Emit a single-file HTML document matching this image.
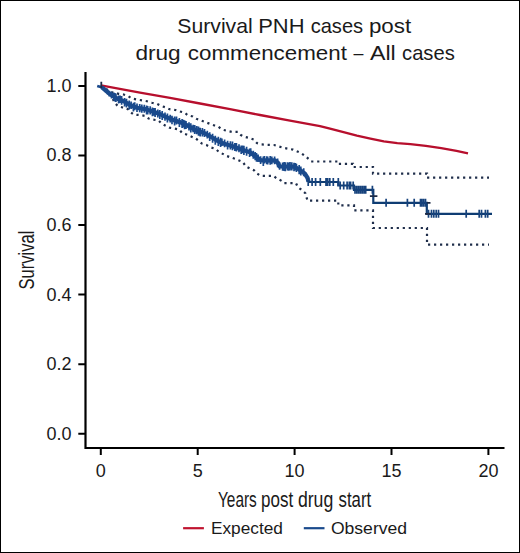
<!DOCTYPE html>
<html><head><meta charset="utf-8"><style>
html,body{margin:0;padding:0;background:#fff}
svg{display:block;font-family:"Liberation Sans",sans-serif;fill:#1a1a1a}
</style></head><body>
<svg width="520" height="553" viewBox="0 0 520 553">
<rect x="0.5" y="0.5" width="519" height="552" fill="#fff" stroke="#000" stroke-width="1"/>
<text x="177.29" y="32.9" font-size="21" textLength="75.43" lengthAdjust="spacingAndGlyphs">Survival</text>
<text x="258.21" y="32.9" font-size="21" textLength="46.29" lengthAdjust="spacingAndGlyphs">PNH</text>
<text x="310.64" y="32.9" font-size="21" textLength="52.48" lengthAdjust="spacingAndGlyphs">cases</text>
<text x="368.94" y="32.9" font-size="21" textLength="42.25" lengthAdjust="spacingAndGlyphs">post</text>
<text x="135.42" y="59.9" font-size="21" textLength="45.29" lengthAdjust="spacingAndGlyphs">drug</text>
<text x="187.84" y="59.9" font-size="21" textLength="159.08" lengthAdjust="spacingAndGlyphs">commencement</text>
<text x="353.4" y="59.9" font-size="21" textLength="9.93" lengthAdjust="spacingAndGlyphs">–</text>
<text x="370.0" y="59.9" font-size="21" textLength="25.78" lengthAdjust="spacingAndGlyphs">All</text>
<text x="402.04" y="59.9" font-size="21" textLength="52.79" lengthAdjust="spacingAndGlyphs">cases</text>
<path d="M85.5 72V448H504.5" fill="none" stroke="#000" stroke-width="2.2"/>
<path d="M78.3 433.8H85.5 M78.3 364.2H85.5 M78.3 294.6H85.5 M78.3 225.1H85.5 M78.3 155.5H85.5 M78.3 85.9H85.5" stroke="#000" stroke-width="2"/>
<path d="M100.8 448V455 M197.7 448V455 M294.6 448V455 M391.5 448V455 M488.4 448V455" stroke="#000" stroke-width="2"/>
<text x="71.5" y="439.7" font-size="18" text-anchor="end">0.0</text>
<text x="71.5" y="370.1" font-size="18" text-anchor="end">0.2</text>
<text x="71.5" y="300.5" font-size="18" text-anchor="end">0.4</text>
<text x="71.5" y="231.0" font-size="18" text-anchor="end">0.6</text>
<text x="71.5" y="161.4" font-size="18" text-anchor="end">0.8</text>
<text x="71.5" y="91.8" font-size="18" text-anchor="end">1.0</text>
<text x="100.8" y="476.8" font-size="18" text-anchor="middle">0</text>
<text x="197.7" y="476.8" font-size="18" text-anchor="middle">5</text>
<text x="294.6" y="476.8" font-size="18" text-anchor="middle">10</text>
<text x="391.5" y="476.8" font-size="18" text-anchor="middle">15</text>
<text x="488.4" y="476.8" font-size="18" text-anchor="middle">20</text>
<text transform="translate(33.9 260) rotate(-90)" font-size="22.5" text-anchor="middle" textLength="59" lengthAdjust="spacingAndGlyphs">Survival</text>
<text x="217.98" y="506.6" font-size="21.5" textLength="38.86" lengthAdjust="spacingAndGlyphs">Years</text>
<text x="261.11" y="506.6" font-size="21.5" textLength="32.11" lengthAdjust="spacingAndGlyphs">post</text>
<text x="297.88" y="506.6" font-size="21.5" textLength="35.38" lengthAdjust="spacingAndGlyphs">drug</text>
<text x="338.52" y="506.6" font-size="21.5" textLength="32.65" lengthAdjust="spacingAndGlyphs">start</text>
<text x="210.93" y="533.5" font-size="16.2" textLength="72.0" lengthAdjust="spacingAndGlyphs">Expected</text>
<text x="330.91" y="533.5" font-size="16.2" textLength="76.17" lengthAdjust="spacingAndGlyphs">Observed</text>
<path d="M183.1 528.2H203.9" stroke="#c0132f" stroke-width="2.2"/>
<path d="M303.8 528.2H324.5" stroke="#1a4a8c" stroke-width="2.2"/>
<polyline points="100.8,86.0 112.0,92.3 118.6,93.8 123.6,94.5 128.2,96.1 131.9,98.5 136.9,99.6 142.3,100.4 146.9,101.2 151.9,102.7 156.9,103.8 160.8,105.8 165.4,107.3 169.6,109.2 175.4,110.0 180.0,111.5 184.6,112.7 188.0,115.4 192.7,116.5 196.5,118.8 200.8,120.4 205.0,122.0 214.6,125.5 218.5,126.9 222.3,129.6 227.0,130.8 231.9,131.9 237.7,131.9 240.8,135.0 245.0,136.9 249.6,138.1 253.8,139.6 256.9,143.1 261.5,144.4 268.0,144.8 274.0,145.0 278.0,146.2 283.8,147.9 293.0,149.6 301.0,153.0 305.8,156.5 310.4,160.6 311.0,161.5 338.0,161.5 338.0,163.8 353.0,163.8 353.0,167.0 373.0,167.0 373.0,173.6 427.0,173.6 427.0,177.6 489.0,177.6" fill="none" stroke="#1e2d4a" stroke-width="2.2" stroke-dasharray="2.2 3.8"/>
<polyline points="100.8,86.0 111.0,95.0 114.8,103.0 117.8,106.0 122.7,107.5 128.4,109.4 130.8,112.3 133.8,114.6 139.6,115.0 144.6,115.8 148.5,118.5 153.0,119.6 158.5,120.4 161.5,123.5 165.8,125.8 169.6,127.7 174.2,128.5 179.2,129.6 182.3,133.1 185.8,134.2 195.8,138.5 201.9,143.5 206.5,145.0 210.4,147.3 215.4,148.8 218.5,151.5 226.2,155.8 230.4,157.3 235.0,158.8 242.7,161.9 246.0,166.5 250.0,168.5 254.2,170.4 256.9,173.5 260.8,175.8 266.5,175.9 273.5,175.9 276.5,178.3 281.5,180.8 284.0,183.2 296.0,183.2 297.7,187.1 301.0,189.4 305.4,193.3 307.5,200.7 338.3,200.7 338.3,205.4 354.0,205.4 354.0,210.4 373.0,210.4 373.0,228.0 427.0,228.0 427.0,244.7 489.0,244.7" fill="none" stroke="#1e2d4a" stroke-width="2.2" stroke-dasharray="2.2 3.8"/>
<polyline points="100.9,85.3 140.0,92.6 170.0,97.9 200.0,103.5 230.0,109.2 260.0,115.0 290.0,120.6 320.0,126.2 330.0,128.6 343.5,132.2 356.9,135.6 370.4,138.6 383.8,141.3 397.3,143.1 410.4,144.1 425.8,145.9 441.2,148.2 456.5,150.9 468.0,153.4" fill="none" stroke="#b70f2d" stroke-width="2.3" stroke-linejoin="round"/>
<polyline points="101.7,87.2 109.4,93.6 117.0,98.5 124.8,101.8 131.0,105.8 137.7,107.8 145.4,109.2 153.0,111.5 160.8,114.4 167.0,117.6 172.7,119.8 180.4,122.4 188.0,125.8 197.0,130.8 203.8,132.8 209.5,136.0 215.3,139.5 221.0,142.6 226.5,144.5 232.7,146.2 240.0,149.0 250.0,152.3 257.0,157.5 261.0,160.4 275.0,160.5 278.0,163.0 279.5,166.3 294.0,166.6 299.5,169.7 304.7,173.4 307.6,178.0 308.5,181.8" fill="none" stroke="#1a4a8c" stroke-width="4.3" stroke-linejoin="round"/>
<path d="M97.2 85.9L101.7 87.2L109.4 93.6" fill="none" stroke="#1a4a8c" stroke-width="2.6"/>
<path d="M104.0 87.6v3.0 M105.5 88.5v3.7 M107.6 89.7v4.8 M109.3 90.7v5.7 M111.5 91.6v6.8 M113.8 92.5v7.9 M114.9 93.1v8.4 M115.9 93.6v8.5 M118.6 95.4v8.2 M120.1 95.5v7.5 M121.6 96.1v8.6 M124.6 97.9v8.6 M126.5 98.7v8.7 M129.2 100.6v8.8 M131.1 101.4v7.5 M133.4 102.7v8.7 M134.7 102.3v8.0 M137.0 103.4v8.6 M139.7 104.1v8.2 M141.8 104.5v8.2 M144.3 104.7v8.0 M146.6 105.5v8.9 M147.7 106.1v8.5 M150.2 106.3v8.1 M152.4 107.4v8.9 M154.0 107.9v7.8 M155.1 108.1v8.8 M157.8 109.5v8.1 M159.8 110.0v9.0 M162.2 111.0v9.0 M165.0 112.6v8.1 M167.4 113.4v9.1 M170.2 114.7v7.9 M172.0 115.7v8.5 M174.6 116.5v9.0 M176.5 116.6v7.8 M179.4 118.1v9.0 M182.1 118.9v9.0 M183.3 119.7v7.7 M184.6 120.3v8.9 M186.0 120.9v8.1 M189.0 122.2v8.3 M190.8 123.3v9.2 M193.1 124.7v7.5 M194.7 124.9v9.1 M196.7 126.0v8.3 M198.5 126.6v9.2 M200.2 127.8v8.8 M202.4 127.9v8.7 M204.5 129.0v8.0 M207.3 130.7v7.9 M209.7 132.3v8.6 M212.6 133.8v9.0 M215.3 135.7v9.1 M218.3 136.7v9.2 M220.6 137.8v9.1 M221.9 138.6v7.5 M224.6 139.4v7.8 M227.6 140.8v8.7 M230.4 141.3v8.2 M232.5 141.6v8.6 M234.9 143.0v8.0 M236.4 143.1v8.4 M239.0 144.2v8.1 M241.2 145.5v8.5 M242.7 145.4v7.8 M243.9 145.8v9.2 M246.6 146.7v9.0 M249.6 148.4v8.6 M250.7 148.3v7.6 M253.3 150.8v8.0 M255.2 151.9v8.3 M256.5 152.9v8.9 M258.1 154.5v7.6 M260.6 156.2v7.7 M263.3 156.6v9.3 M264.4 155.9v7.7 M266.7 156.2v8.1 M267.7 156.4v8.1 M270.2 156.1v8.6 M271.8 156.4v7.8 M274.6 156.5v7.7 M277.6 158.4v8.8 M279.6 162.2v7.6 M282.6 162.5v8.2 M284.2 162.1v8.9 M285.3 162.3v8.9 M287.5 162.2v8.3 M288.6 162.4v8.4 M290.0 162.1v8.3 M291.8 162.2v8.3 M294.0 162.7v8.5 M295.4 163.0v7.6 M296.4 163.8v8.3 M299.2 165.0v9.2 M300.8 166.5v9.1 M303.7 168.2v8.0" stroke="#1a4a8c" stroke-width="1.7"/>
<polyline points="308.0,182.0 338.3,182.0 338.3,185.5 354.0,185.5 354.0,189.8 373.3,189.8 373.3,202.8 426.8,202.8 426.8,213.8 492.0,213.8" fill="none" stroke="#0f3d73" stroke-width="2.2"/>
<path d="M308.2 178.0v8 M312.1 178.0v8 M315.6 178.0v8 M320.3 178.0v8 M326.0 178.0v8 M327.7 178.0v8 M329.8 178.0v8 M333.3 178.0v8 M338.3 178.0v8 M340.2 181.5v8 M343.7 181.5v8 M347.1 181.5v8 M349.3 181.5v8 M350.6 181.5v8 M353.2 181.5v8 M355.0 185.8v8 M356.8 185.8v8 M358.6 185.8v8 M360.4 185.8v8 M362.2 185.8v8 M364.0 185.8v8 M365.7 185.8v8 M372.4 185.8v8 M386.1 198.8v8 M407.4 198.8v8 M414.2 198.8v8 M420.5 198.8v8 M421.8 198.8v8 M423.6 198.8v8 M425.5 198.8v8 M428.5 209.8v8 M431.5 209.8v8 M433.8 209.8v8 M436.2 209.8v8 M438.5 209.8v8 M466.2 209.8v8 M479.2 209.8v8 M481.5 209.8v8 M485.4 209.8v8 M487.7 209.8v8" stroke="#16427c" stroke-width="1.7"/>
<path d="M101.3 81.8V88M369.9 196.2H377.4M425 213.8H430.5M427 202.8H430.5" stroke="#1d2a45" stroke-width="1.8"/>
</svg>
</body></html>
